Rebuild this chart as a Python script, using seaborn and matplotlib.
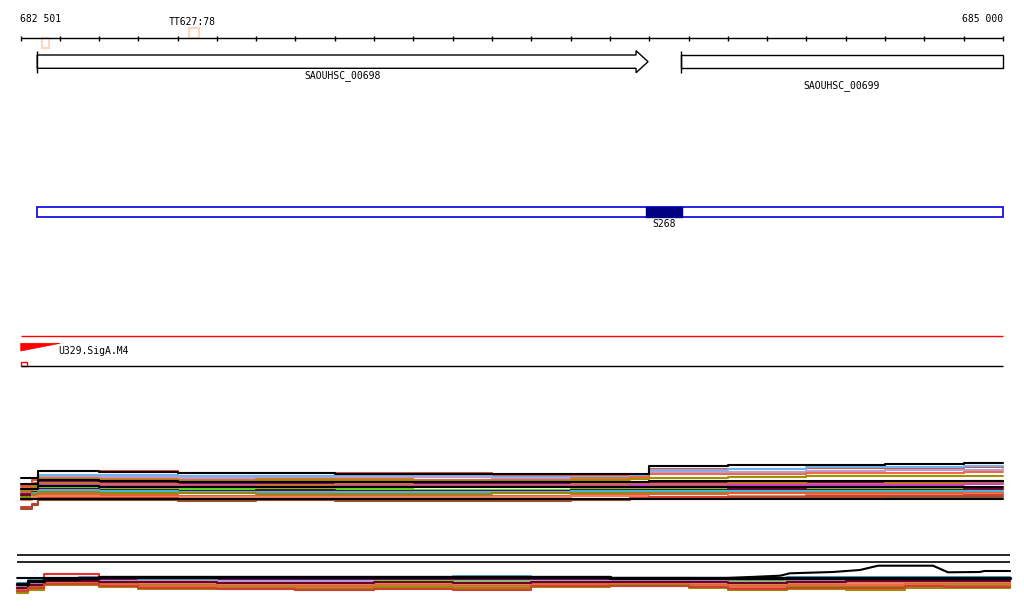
import matplotlib
matplotlib.use("Agg")
import matplotlib.pyplot as plt
import seaborn as sns
from matplotlib.patches import Rectangle, Polygon

# --- ruler / view ---
ruler_start = 682501
ruler_end = 685000
ruler_ticks = [682501] + list(range(682600, 685001, 100))
ruler_labels = ["682 501", "685 000"]

# --- terminators ---
tt_starts = [682556, 682929]
tt_ends = [682572, 682954]
tt_strand = ["-", "+"]
tt_labels = ["", "TT627:78"]

# --- genes ---
gene_names = ["SAOUHSC_00698", "SAOUHSC_00699"]
gene_starts = [682543, 684181]
gene_ends = [684097, 685000]
gene_has_tip = [True, False]

# --- segment track ---
region_start = 682543
region_end = 685000
seg_name = "S268"
seg_start = 684093
seg_end = 684183

# --- motif track ---
motif_name = "U329.SigA.M4"
motif_start = 682501
motif_end = 682601

# --- expression track 1 ---
track1_pos = [682501, 682530, 682545, 682700, 682900, 683100, 683300, 683500, 683700,
              683900, 684050, 684100, 684300, 684500, 684700, 684900, 685000]
track1 = {
    "red_top": [26, 32, 41, 41, 39, 39, 39, 39, 36, 36, 37, 43, 43, 44, 44, 45, 45],
    "lightblue": [22, 28, 37, 37, 36, 36, 36, 36, 35, 35, 36, 42, 43, 45, 45, 46, 46],
    "lavender": [20, 26, 35, 35, 34, 34, 35, 35, 34, 33, 34, 40, 40, 41, 42, 42, 43],
    "tomato": [24, 29, 34, 33, 32, 33, 33, 32, 32, 34, 35, 38, 38, 39, 39, 40, 40],
    "olive": [22, 26, 33, 32, 31, 32, 32, 31, 31, 32, 33, 34, 35, 36, 36, 36, 36],
    "purple": [18, 24, 30, 30, 28, 28, 29, 29, 28, 28, 29, 29, 30, 30, 30, 31, 30],
    "sienna": [20, 24, 29, 28, 27, 27, 28, 27, 27, 28, 28, 28, 29, 28, 29, 29, 29],
    "magenta": [17, 22, 27, 26, 26, 25, 26, 26, 26, 26, 27, 26, 27, 27, 27, 28, 28],
    "lime": [16, 21, 24, 23, 23, 23, 23, 22, 22, 24, 24, 24, 24, 24, 24, 24, 24],
    "maroon": [17, 20, 23, 22, 21, 22, 21, 21, 21, 22, 22, 22, 23, 22, 22, 23, 23],
    "cyan": [14, 19, 22, 21, 20, 20, 20, 20, 20, 21, 21, 21, 21, 21, 21, 21, 21],
    "darkolive": [15, 18, 20, 19, 19, 18, 18, 18, 19, 19, 19, 19, 19, 19, 19, 19, 19],
    "orangered": [13, 16, 18, 17, 16, 16, 16, 16, 16, 17, 18, 18, 19, 19, 19, 19, 19],
    "salmon": [12, 15, 16, 15, 15, 15, 15, 15, 15, 16, 16, 15, 16, 17, 17, 18, 18],
    "red_low": [5, 8, 14, 14, 13, 13, 13, 13, 12, 13, 14, 15, 15, 16, 16, 17, 17],
    "brown_low": [3, 7, 12, 12, 11, 12, 11, 11, 11, 12, 13, 13, 14, 14, 15, 15, 15],
    "black_mid": [28, 28, 32, 31, 30, 30, 30, 30, 30, 30, 30, 31, 31, 31, 31, 31, 31],
    "black_mid2": [23, 23, 26, 25, 25, 25, 25, 25, 25, 25, 25, 25, 25, 25, 25, 25, 25],
    "black_bottom": [13] * 17,
    "black_top": [34, 34, 41, 40, 39, 39, 38, 38, 38, 38, 38, 46, 47, 47, 48, 49, 49],
}

# --- expression track 2 ---
track2_pos = [682492, 682520, 682560, 682650, 682700, 682800, 683000, 683200, 683400, 683600,
              683800, 684000, 684200, 684300, 684450, 684600, 684750, 684850, 685018]
track2 = {
    "red_bump": [10, 14, 22, 22, 18, 17, 17, 17, 17, 17, 17, 18, 17, 16, 17, 17, 17, 17, 17],
    "lightblue": [11, 14, 18, 19, 17, 17, 17, 17, 17, 20, 17, 17, 17, 17, 18, 18, 18, 18, 18],
    "purple": [9, 13, 18, 18, 16, 16, 16, 16, 16, 16, 16, 16, 16, 16, 16, 16, 16, 16, 16],
    "lime": [8, 12, 17, 17, 15, 15, 14, 14, 15, 15, 15, 15, 15, 15, 17, 17, 17, 17, 17],
    "lavender": [10, 13, 16, 16, 15, 15, 15, 15, 14, 14, 15, 15, 15, 14, 15, 16, 16, 16, 16],
    "olive": [7, 10, 15, 15, 14, 13, 12, 12, 13, 13, 14, 14, 13, 13, 14, 14, 14, 14, 14],
    "salmon": [6, 10, 14, 14, 13, 12, 11, 11, 12, 11, 13, 13, 12, 12, 13, 13, 13, 13, 13],
    "sienna": [6, 9, 13, 13, 12, 11, 10, 10, 11, 10, 12, 12, 11, 10, 11, 11, 12, 12, 12],
    "tomato": [5, 8, 13, 13, 11, 9, 9, 8, 10, 9, 11, 12, 10, 9, 10, 11, 11, 11, 11],
    "darkolive": [4, 7, 12, 12, 10, 8, 8, 7, 9, 8, 10, 11, 9, 7, 9, 9, 10, 10, 10],
    "olive_low": [3, 6, 11, 11, 9, 7, 7, 6, 8, 7, 9, 10, 8, 6, 7, 6, 8, 8, 9],
    "maroon": [8, 11, 15, 15, 14, 14, 13, 13, 14, 13, 14, 14, 14, 13, 14, 15, 15, 15, 15],
    "cyan": [13, 16, 18, 18, 18, 17, 18, 18, 18, 18, 18, 18, 18, 18, 19, 19, 19, 19, 19],
    "red_low": [5, 8, 12, 12, 10, 8, 7, 6, 7, 6, 10, 10, 9, 7, 8, 8, 10, 9, 9],
    "black_band": [12, 15, 17, 18, 19, 19, 19, 19, 19, 19, 19, 18, 18, 18, 18, 18, 18, 18, 18],
}
track2_refs = [2, 9]  # two flat reference rows above track 2

# black outlier curve in track 2 (own breakpoints)
curve_pos = [682492, 684300, 684433, 684458, 684567, 684636, 684682, 684822,
             684860, 684941, 684952, 685018]
curve_vals = [18, 18, 20.3, 22.7, 24, 26, 30.3, 30.3, 23.7, 24, 25, 25]

series_colors = {
    "red_top": "#e8503a", "red_bump": "#e83030", "lightblue": "#6cb4f0", "lavender": "#b4a0d8",
    "tomato": "#f06848", "olive": "#a09000", "purple": "#800080", "sienna": "#c8742a",
    "magenta": "#d040c0", "lime": "#60e020", "maroon": "#700028", "cyan": "#40b8e0",
    "darkolive": "#8c8c10", "orangered": "#e06030", "salmon": "#f08060", "red_low": "#d04030",
    "brown_low": "#985030", "olive_low": "#a08c00",
}

W, H = 1024, 611
px_per_bp = (1003 - 20.7) / (ruler_end - ruler_start)
view_start = ruler_start - 20.7 / px_per_bp
view_end = ruler_start + (W - 20.7) / px_per_bp

mono = {"family": "DejaVu Sans Mono", "size": 7, "color": "black"}

sns.set_style("white")
fig = plt.figure(figsize=(W / 100, H / 100), dpi=100)
ax = fig.add_axes([0, 0, 1, 1])
ax.set_xlim(view_start, view_end)
ax.set_ylim(H, 0)
ax.set_axis_off()

# ruler
ax.hlines(38.3, ruler_start, ruler_end, color="black", lw=1)
ax.vlines(ruler_ticks, 35.5, 41, color="black", lw=1)
ax.text(ruler_start - 1, 19.5, ruler_labels[0], ha="left", va="center", **mono)
ax.text(ruler_end, 19.5, ruler_labels[1], ha="right", va="center", **mono)

# terminators
for s, e, strand, lab in zip(tt_starts, tt_ends, tt_strand, tt_labels):
    y0 = 38.3 if strand == "-" else 28.3
    ax.add_patch(Rectangle((s, y0), e - s, 10, fill=False, ec="#fcd8c4", lw=1.5))
    if lab:
        ax.text((s + e) / 2 - 4, 22, lab, ha="center", va="center", **mono)

# genes
head = 12 / px_per_bp
label_rows = [76, 85.5]
for name, s, e, tip, ly in zip(gene_names, gene_starts, gene_ends, gene_has_tip, label_rows):
    if tip:
        pts = [(s, 55), (e - head, 55), (e - head, 50.7), (e, 61.7),
               (e - head, 72.7), (e - head, 68.3), (s, 68.3)]
    else:
        pts = [(s, 55), (e, 55), (e, 68.3), (s, 68.3)]
    ax.add_patch(Polygon(pts, closed=True, fill=False, ec="black", lw=1))
    ax.vlines(s, 50.7, 72.7, color="black", lw=1)
    ax.text((s + e) / 2, ly, name, ha="center", va="center", **mono)

# segment track
ax.add_patch(Rectangle((region_start, 207), region_end - region_start, 10,
                       fill=False, ec="#0000e0", lw=1.2))
ax.add_patch(Rectangle((seg_start, 207), seg_end - seg_start, 10, fc="#000080", ec="#000080", lw=1))
ax.text((seg_start + seg_end) / 2, 224, seg_name, ha="center", va="center", **mono)

# motif track
ax.hlines(336, ruler_start, ruler_end, color="red", lw=1)
ax.hlines(366, ruler_start, ruler_end, color="black", lw=1)
ax.add_patch(Polygon([(motif_start, 343.3), (motif_end, 343.3), (motif_start, 351)],
                     closed=True, fc="red", ec="red", lw=0.5))
ax.add_patch(Rectangle((motif_start, 362.3), 15, 3.7, fill=False, ec="red", lw=1))
ax.text(motif_end - 4, 350.5, motif_name, ha="left", va="center", **mono)

# reference rows above track 2
for r in track2_refs:
    ax.hlines(553 + r, track2_pos[0], track2_pos[-1], color="black", lw=1.2)


def draw_track(series, pos, rect, top):
    tax = fig.add_axes(rect)
    for key, vals in series.items():
        color = "black" if key.startswith("black") else series_colors[key]
        lw = 2.4 if key == "black_band" else 1.5
        sns.lineplot(x=pos, y=vals, color=color, linewidth=lw, ax=tax, legend=False,
                     drawstyle="steps-post")
    tax.set_xlim(view_start, view_end)
    tax.set_ylim(0, top)
    tax.set_axis_off()
    return tax


draw_track(track1, track1_pos, [0, 1 - 512 / H, 1, 52 / H], 52)
ax2 = draw_track(track2, track2_pos, [0, 1 - 596 / H, 1, 46 / H], 46)
sns.lineplot(x=curve_pos, y=curve_vals, color="black", linewidth=1.5, ax=ax2, legend=False)

fig.savefig("out.png", dpi=100)
